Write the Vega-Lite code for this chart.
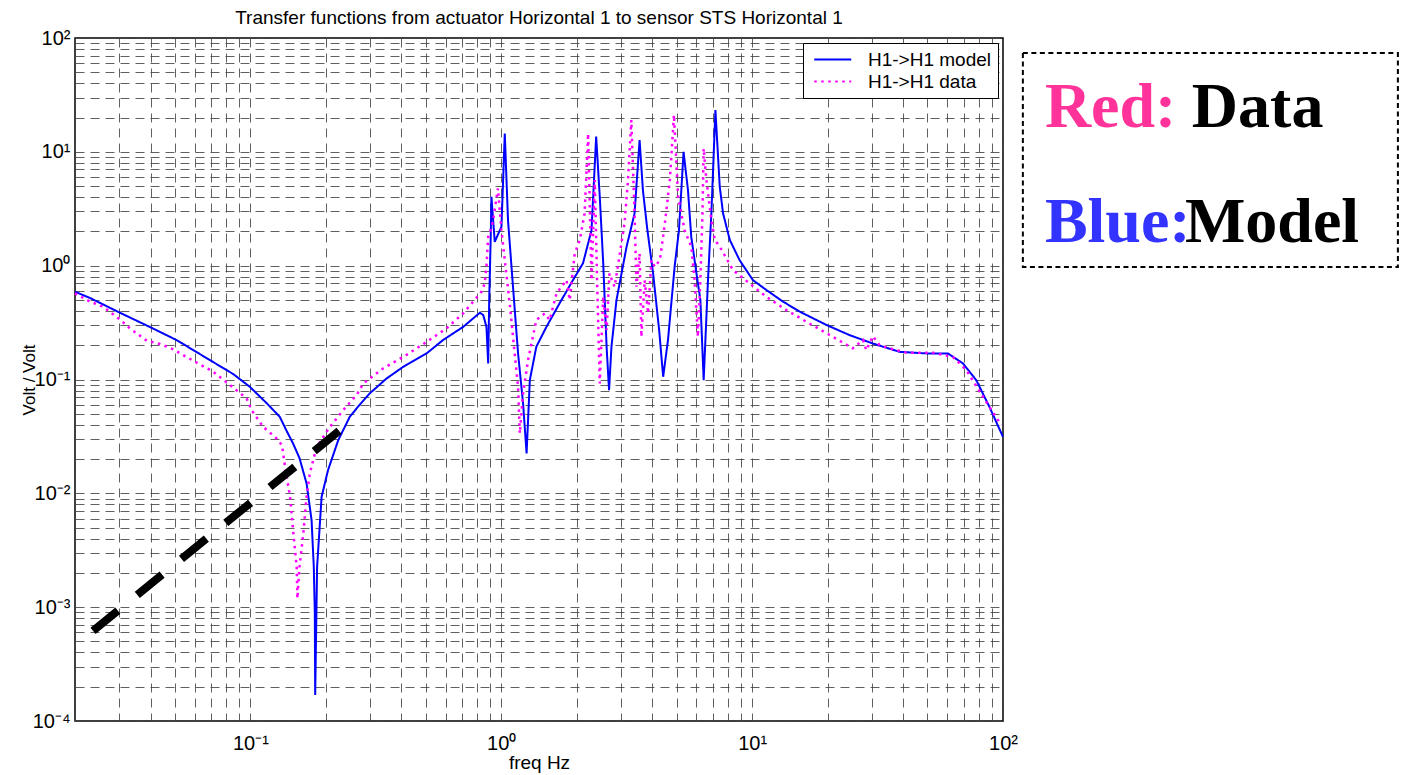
{
  "$schema": "https://vega.github.io/schema/vega-lite/v6.json",
  "width": 928,
  "height": 683,
  "autosize": {"type": "none"},
  "padding": {"left": 75, "top": 38, "right": 398, "bottom": 54},
  "background": "white",
  "title": {"text": "Transfer functions from actuator Horizontal 1 to sensor STS Horizontal 1", "font": "Liberation Sans", "fontSize": 19, "fontWeight": "normal", "color": "black", "anchor": "middle", "offset": 0},
  "datasets": {
    "model": [
      {"f": 0.02, "v": 0.59, "s": "H1->H1 model"},
      {"f": 0.023, "v": 0.519, "s": "H1->H1 model"},
      {"f": 0.0302, "v": 0.386, "s": "H1->H1 model"},
      {"f": 0.0398, "v": 0.289, "s": "H1->H1 model"},
      {"f": 0.0508, "v": 0.222, "s": "H1->H1 model"},
      {"f": 0.069, "v": 0.148, "s": "H1->H1 model"},
      {"f": 0.0855, "v": 0.1115, "s": "H1->H1 model"},
      {"f": 0.0995, "v": 0.0863, "s": "H1->H1 model"},
      {"f": 0.116, "v": 0.0621, "s": "H1->H1 model"},
      {"f": 0.131, "v": 0.047, "s": "H1->H1 model"},
      {"f": 0.139, "v": 0.0359, "s": "H1->H1 model"},
      {"f": 0.148, "v": 0.0274, "s": "H1->H1 model"},
      {"f": 0.157, "v": 0.0204, "s": "H1->H1 model"},
      {"f": 0.1675, "v": 0.01222, "s": "H1->H1 model"},
      {"f": 0.1754, "v": 0.00581, "s": "H1->H1 model"},
      {"f": 0.179, "v": 0.00226, "s": "H1->H1 model"},
      {"f": 0.1807, "v": 0.000885, "s": "H1->H1 model"},
      {"f": 0.1813, "v": 0.000169, "s": "H1->H1 model"},
      {"f": 0.1845, "v": 0.00226, "s": "H1->H1 model"},
      {"f": 0.1923, "v": 0.00931, "s": "H1->H1 model"},
      {"f": 0.204, "v": 0.016, "s": "H1->H1 model"},
      {"f": 0.224, "v": 0.0293, "s": "H1->H1 model"},
      {"f": 0.249, "v": 0.047, "s": "H1->H1 model"},
      {"f": 0.272, "v": 0.0596, "s": "H1->H1 model"},
      {"f": 0.299, "v": 0.0755, "s": "H1->H1 model"},
      {"f": 0.349, "v": 0.102, "s": "H1->H1 model"},
      {"f": 0.407, "v": 0.1294, "s": "H1->H1 model"},
      {"f": 0.504, "v": 0.1695, "s": "H1->H1 model"},
      {"f": 0.586, "v": 0.222, "s": "H1->H1 model"},
      {"f": 0.705, "v": 0.29, "s": "H1->H1 model"},
      {"f": 0.822, "v": 0.386, "s": "H1->H1 model"},
      {"f": 0.848, "v": 0.368, "s": "H1->H1 model"},
      {"f": 0.873, "v": 0.29, "s": "H1->H1 model"},
      {"f": 0.887, "v": 0.1386, "s": "H1->H1 model"},
      {"f": 0.896, "v": 0.533, "s": "H1->H1 model"},
      {"f": 0.908, "v": 1.79, "s": "H1->H1 model"},
      {"f": 0.914, "v": 4.03, "s": "H1->H1 model"},
      {"f": 0.942, "v": 1.62, "s": "H1->H1 model"},
      {"f": 1.002, "v": 2.2, "s": "H1->H1 model"},
      {"f": 1.033, "v": 14.5, "s": "H1->H1 model"},
      {"f": 1.064, "v": 2.52, "s": "H1->H1 model"},
      {"f": 1.114, "v": 0.653, "s": "H1->H1 model"},
      {"f": 1.167, "v": 0.1695, "s": "H1->H1 model"},
      {"f": 1.222, "v": 0.0617, "s": "H1->H1 model"},
      {"f": 1.262, "v": 0.0224, "s": "H1->H1 model"},
      {"f": 1.3, "v": 0.0988, "s": "H1->H1 model"},
      {"f": 1.38, "v": 0.194, "s": "H1->H1 model"},
      {"f": 1.514, "v": 0.29, "s": "H1->H1 model"},
      {"f": 1.71, "v": 0.469, "s": "H1->H1 model"},
      {"f": 1.932, "v": 0.747, "s": "H1->H1 model"},
      {"f": 2.118, "v": 1.05, "s": "H1->H1 model"},
      {"f": 2.29, "v": 2.05, "s": "H1->H1 model"},
      {"f": 2.39, "v": 13.6, "s": "H1->H1 model"},
      {"f": 2.47, "v": 4.03, "s": "H1->H1 model"},
      {"f": 2.55, "v": 1.05, "s": "H1->H1 model"},
      {"f": 2.63, "v": 0.194, "s": "H1->H1 model"},
      {"f": 2.69, "v": 0.0807, "s": "H1->H1 model"},
      {"f": 2.75, "v": 0.194, "s": "H1->H1 model"},
      {"f": 2.88, "v": 0.499, "s": "H1->H1 model"},
      {"f": 3.16, "v": 1.47, "s": "H1->H1 model"},
      {"f": 3.4, "v": 2.88, "s": "H1->H1 model"},
      {"f": 3.56, "v": 12.7, "s": "H1->H1 model"},
      {"f": 3.67, "v": 4.62, "s": "H1->H1 model"},
      {"f": 3.81, "v": 2.2, "s": "H1->H1 model"},
      {"f": 4.03, "v": 0.855, "s": "H1->H1 model"},
      {"f": 4.26, "v": 0.272, "s": "H1->H1 model"},
      {"f": 4.42, "v": 0.1057, "s": "H1->H1 model"},
      {"f": 4.62, "v": 0.222, "s": "H1->H1 model"},
      {"f": 4.91, "v": 0.978, "s": "H1->H1 model"},
      {"f": 5.11, "v": 2.05, "s": "H1->H1 model"},
      {"f": 5.33, "v": 10.0, "s": "H1->H1 model"},
      {"f": 5.55, "v": 4.62, "s": "H1->H1 model"},
      {"f": 5.72, "v": 1.79, "s": "H1->H1 model"},
      {"f": 6.0, "v": 0.855, "s": "H1->H1 model"},
      {"f": 6.22, "v": 0.499, "s": "H1->H1 model"},
      {"f": 6.41, "v": 0.0988, "s": "H1->H1 model"},
      {"f": 6.67, "v": 0.747, "s": "H1->H1 model"},
      {"f": 6.88, "v": 2.88, "s": "H1->H1 model"},
      {"f": 7.14, "v": 23.3, "s": "H1->H1 model"},
      {"f": 7.43, "v": 4.93, "s": "H1->H1 model"},
      {"f": 7.66, "v": 2.88, "s": "H1->H1 model"},
      {"f": 8.15, "v": 1.68, "s": "H1->H1 model"},
      {"f": 8.91, "v": 1.12, "s": "H1->H1 model"},
      {"f": 10.07, "v": 0.747, "s": "H1->H1 model"},
      {"f": 11.4, "v": 0.611, "s": "H1->H1 model"},
      {"f": 13.3, "v": 0.482, "s": "H1->H1 model"},
      {"f": 15.5, "v": 0.394, "s": "H1->H1 model"},
      {"f": 19.8, "v": 0.301, "s": "H1->H1 model"},
      {"f": 24.5, "v": 0.245, "s": "H1->H1 model"},
      {"f": 30.3, "v": 0.207, "s": "H1->H1 model"},
      {"f": 38.7, "v": 0.175, "s": "H1->H1 model"},
      {"f": 49.4, "v": 0.1695, "s": "H1->H1 model"},
      {"f": 60.3, "v": 0.1695, "s": "H1->H1 model"},
      {"f": 69.2, "v": 0.1386, "s": "H1->H1 model"},
      {"f": 78.2, "v": 0.0988, "s": "H1->H1 model"},
      {"f": 88.3, "v": 0.0575, "s": "H1->H1 model"},
      {"f": 100, "v": 0.0313, "s": "H1->H1 model"}
    ],
    "meas": [
      {"f": 0.02, "v": 0.571, "s": "H1->H1 data"},
      {"f": 0.023, "v": 0.482, "s": "H1->H1 data"},
      {"f": 0.0259, "v": 0.436, "s": "H1->H1 data"},
      {"f": 0.0302, "v": 0.337, "s": "H1->H1 data"},
      {"f": 0.0331, "v": 0.281, "s": "H1->H1 data"},
      {"f": 0.0387, "v": 0.219, "s": "H1->H1 data"},
      {"f": 0.0437, "v": 0.205, "s": "H1->H1 data"},
      {"f": 0.0493, "v": 0.184, "s": "H1->H1 data"},
      {"f": 0.0592, "v": 0.146, "s": "H1->H1 data"},
      {"f": 0.0711, "v": 0.117, "s": "H1->H1 data"},
      {"f": 0.083, "v": 0.0893, "s": "H1->H1 data"},
      {"f": 0.0966, "v": 0.0683, "s": "H1->H1 data"},
      {"f": 0.1012, "v": 0.0538, "s": "H1->H1 data"},
      {"f": 0.1125, "v": 0.0384, "s": "H1->H1 data"},
      {"f": 0.1274, "v": 0.0303, "s": "H1->H1 data"},
      {"f": 0.1337, "v": 0.0265, "s": "H1->H1 data"},
      {"f": 0.1375, "v": 0.0171, "s": "H1->H1 data"},
      {"f": 0.144, "v": 0.00931, "s": "H1->H1 data"},
      {"f": 0.148, "v": 0.00475, "s": "H1->H1 data"},
      {"f": 0.153, "v": 0.00226, "s": "H1->H1 data"},
      {"f": 0.154, "v": 0.00119, "s": "H1->H1 data"},
      {"f": 0.157, "v": 0.00226, "s": "H1->H1 data"},
      {"f": 0.1626, "v": 0.00444, "s": "H1->H1 data"},
      {"f": 0.1675, "v": 0.00931, "s": "H1->H1 data"},
      {"f": 0.1726, "v": 0.015, "s": "H1->H1 data"},
      {"f": 0.1837, "v": 0.0256, "s": "H1->H1 data"},
      {"f": 0.2075, "v": 0.0384, "s": "H1->H1 data"},
      {"f": 0.2344, "v": 0.0538, "s": "H1->H1 data"},
      {"f": 0.265, "v": 0.0729, "s": "H1->H1 data"},
      {"f": 0.282, "v": 0.0924, "s": "H1->H1 data"},
      {"f": 0.338, "v": 0.125, "s": "H1->H1 data"},
      {"f": 0.407, "v": 0.158, "s": "H1->H1 data"},
      {"f": 0.504, "v": 0.214, "s": "H1->H1 data"},
      {"f": 0.605, "v": 0.281, "s": "H1->H1 data"},
      {"f": 0.705, "v": 0.381, "s": "H1->H1 data"},
      {"f": 0.773, "v": 0.482, "s": "H1->H1 data"},
      {"f": 0.834, "v": 0.59, "s": "H1->H1 data"},
      {"f": 0.859, "v": 0.698, "s": "H1->H1 data"},
      {"f": 0.873, "v": 0.978, "s": "H1->H1 data"},
      {"f": 0.887, "v": 1.79, "s": "H1->H1 data"},
      {"f": 0.914, "v": 2.14, "s": "H1->H1 data"},
      {"f": 0.929, "v": 2.52, "s": "H1->H1 data"},
      {"f": 0.97, "v": 4.78, "s": "H1->H1 data"},
      {"f": 1.002, "v": 2.05, "s": "H1->H1 data"},
      {"f": 1.033, "v": 1.12, "s": "H1->H1 data"},
      {"f": 1.081, "v": 0.467, "s": "H1->H1 data"},
      {"f": 1.114, "v": 0.237, "s": "H1->H1 data"},
      {"f": 1.167, "v": 0.0863, "s": "H1->H1 data"},
      {"f": 1.186, "v": 0.0336, "s": "H1->H1 data"},
      {"f": 1.222, "v": 0.0755, "s": "H1->H1 data"},
      {"f": 1.279, "v": 0.148, "s": "H1->H1 data"},
      {"f": 1.38, "v": 0.333, "s": "H1->H1 data"},
      {"f": 1.492, "v": 0.381, "s": "H1->H1 data"},
      {"f": 1.56, "v": 0.333, "s": "H1->H1 data"},
      {"f": 1.66, "v": 0.571, "s": "H1->H1 data"},
      {"f": 1.82, "v": 0.747, "s": "H1->H1 data"},
      {"f": 1.875, "v": 0.499, "s": "H1->H1 data"},
      {"f": 1.963, "v": 1.28, "s": "H1->H1 data"},
      {"f": 2.056, "v": 1.68, "s": "H1->H1 data"},
      {"f": 2.15, "v": 2.88, "s": "H1->H1 data"},
      {"f": 2.22, "v": 14.5, "s": "H1->H1 data"},
      {"f": 2.29, "v": 0.747, "s": "H1->H1 data"},
      {"f": 2.36, "v": 5.65, "s": "H1->H1 data"},
      {"f": 2.41, "v": 0.747, "s": "H1->H1 data"},
      {"f": 2.47, "v": 0.0924, "s": "H1->H1 data"},
      {"f": 2.55, "v": 0.533, "s": "H1->H1 data"},
      {"f": 2.63, "v": 0.272, "s": "H1->H1 data"},
      {"f": 2.7, "v": 0.855, "s": "H1->H1 data"},
      {"f": 2.83, "v": 0.653, "s": "H1->H1 data"},
      {"f": 2.97, "v": 1.28, "s": "H1->H1 data"},
      {"f": 3.1, "v": 2.35, "s": "H1->H1 data"},
      {"f": 3.2, "v": 5.65, "s": "H1->H1 data"},
      {"f": 3.3, "v": 19.0, "s": "H1->H1 data"},
      {"f": 3.4, "v": 2.88, "s": "H1->H1 data"},
      {"f": 3.46, "v": 0.653, "s": "H1->H1 data"},
      {"f": 3.56, "v": 1.28, "s": "H1->H1 data"},
      {"f": 3.62, "v": 0.237, "s": "H1->H1 data"},
      {"f": 3.73, "v": 0.747, "s": "H1->H1 data"},
      {"f": 3.85, "v": 0.381, "s": "H1->H1 data"},
      {"f": 3.97, "v": 1.12, "s": "H1->H1 data"},
      {"f": 4.09, "v": 0.978, "s": "H1->H1 data"},
      {"f": 4.29, "v": 1.12, "s": "H1->H1 data"},
      {"f": 4.49, "v": 2.35, "s": "H1->H1 data"},
      {"f": 4.7, "v": 5.65, "s": "H1->H1 data"},
      {"f": 4.88, "v": 21.1, "s": "H1->H1 data"},
      {"f": 5.07, "v": 4.03, "s": "H1->H1 data"},
      {"f": 5.38, "v": 2.05, "s": "H1->H1 data"},
      {"f": 5.72, "v": 1.47, "s": "H1->H1 data"},
      {"f": 5.9, "v": 0.747, "s": "H1->H1 data"},
      {"f": 6.08, "v": 0.237, "s": "H1->H1 data"},
      {"f": 6.22, "v": 0.747, "s": "H1->H1 data"},
      {"f": 6.34, "v": 2.88, "s": "H1->H1 data"},
      {"f": 6.41, "v": 10.7, "s": "H1->H1 data"},
      {"f": 6.56, "v": 5.88, "s": "H1->H1 data"},
      {"f": 6.88, "v": 2.52, "s": "H1->H1 data"},
      {"f": 7.1, "v": 1.68, "s": "H1->H1 data"},
      {"f": 7.43, "v": 1.47, "s": "H1->H1 data"},
      {"f": 8.39, "v": 0.915, "s": "H1->H1 data"},
      {"f": 9.77, "v": 0.698, "s": "H1->H1 data"},
      {"f": 11.4, "v": 0.533, "s": "H1->H1 data"},
      {"f": 13.7, "v": 0.407, "s": "H1->H1 data"},
      {"f": 16.9, "v": 0.311, "s": "H1->H1 data"},
      {"f": 21.0, "v": 0.237, "s": "H1->H1 data"},
      {"f": 25.2, "v": 0.188, "s": "H1->H1 data"},
      {"f": 27.7, "v": 0.222, "s": "H1->H1 data"},
      {"f": 28.5, "v": 0.181, "s": "H1->H1 data"},
      {"f": 30.3, "v": 0.24, "s": "H1->H1 data"},
      {"f": 32.2, "v": 0.2, "s": "H1->H1 data"},
      {"f": 35.3, "v": 0.188, "s": "H1->H1 data"},
      {"f": 41.2, "v": 0.172, "s": "H1->H1 data"},
      {"f": 52.6, "v": 0.172, "s": "H1->H1 data"},
      {"f": 63.1, "v": 0.158, "s": "H1->H1 data"},
      {"f": 71.4, "v": 0.121, "s": "H1->H1 data"},
      {"f": 83.2, "v": 0.0705, "s": "H1->H1 data"},
      {"f": 98.4, "v": 0.0397, "s": "H1->H1 data"}
    ],
    "slope": [
      {"f": 0.0236, "v": 0.00062},
      {"f": 0.2276, "v": 0.0359}
    ]
  },
  "layer": [
    {
      "data": {"name": "model"},
      "mark": {"type": "line", "strokeWidth": 2},
      "encoding": {
        "x": {"field": "f", "type": "quantitative", "scale": {"type": "log", "domain": [0.02, 100], "nice": false}, "axis": {
          "title": "freq Hz",
          "values": [0.02,0.03,0.04,0.05,0.06,0.07,0.08,0.09,0.1,0.2,0.3,0.4,0.5,0.6,0.7,0.8,0.9,1,2,3,4,5,6,7,8,9,10,20,30,40,50,60,70,80,90,100],
          "labelExpr": "datum.value == 0.1 ? '10⁻¹' : datum.value == 1 ? '10⁰' : datum.value == 10 ? '10¹' : datum.value == 100 ? '10²' : ''",
          "labelPadding": 12,
          "titlePadding": 0
        }},
        "y": {"field": "v", "type": "quantitative", "scale": {"type": "log", "domain": [0.0001, 100], "nice": false}, "axis": {
          "title": "Volt / Volt",
          "values": [0.0001,0.0002,0.0003,0.0004,0.0005,0.0006,0.0007,0.0008,0.0009,0.001,0.002,0.003,0.004,0.005,0.006,0.007,0.008,0.009,0.01,0.02,0.03,0.04,0.05,0.06,0.07,0.08,0.09,0.1,0.2,0.3,0.4,0.5,0.6,0.7,0.8,0.9,1,2,3,4,5,6,7,8,9,10,20,30,40,50,60,70,80,90,100],
          "labelExpr": "datum.value == 0.0001 ? '10⁻⁴' : datum.value == 0.001 ? '10⁻³' : datum.value == 0.01 ? '10⁻²' : datum.value == 0.1 ? '10⁻¹' : datum.value == 1 ? '10⁰' : datum.value == 10 ? '10¹' : datum.value == 100 ? '10²' : ''",
          "labelPadding": 5,
          "titlePadding": -6,
          "titleFontSize": 17
        }},
        "color": {"field": "s", "type": "nominal", "scale": {"domain": ["H1->H1 model", "H1->H1 data"], "range": ["#0000FF", "#FF00FF"]}, "legend": {"title": null}},
        "strokeDash": {"field": "s", "type": "nominal", "scale": {"domain": ["H1->H1 model", "H1->H1 data"], "range": [[1, 0], [2.5, 4.5]]}, "legend": {"title": null}}
      }
    },
    {
      "data": {"name": "meas"},
      "mark": {"type": "line", "strokeWidth": 2.5, "strokeCap": "butt"},
      "encoding": {
        "x": {"field": "f", "type": "quantitative"},
        "y": {"field": "v", "type": "quantitative"},
        "color": {"field": "s", "type": "nominal"},
        "strokeDash": {"field": "s", "type": "nominal"}
      }
    },
    {
      "data": {"name": "slope"},
      "mark": {"type": "line", "color": "black", "strokeWidth": 8, "strokeDash": [32, 25], "strokeCap": "butt"},
      "encoding": {
        "x": {"field": "f", "type": "quantitative"},
        "y": {"field": "v", "type": "quantitative"}
      }
    },
    {
      "data": {"values": [{}]},
      "mark": {"type": "rect", "fill": "white", "fillOpacity": 0, "stroke": "black", "strokeWidth": 2, "strokeDash": [5, 3.5]},
      "encoding": {
        "x": {"datum": 120.0, "type": "quantitative"},
        "x2": {"datum": 3750},
        "y": {"datum": 73.8, "type": "quantitative"},
        "y2": {"datum": 0.973}
      }
    },
    {
      "data": {"values": [{}]},
      "mark": {"type": "text", "text": "Red:", "font": "Liberation Serif", "fontWeight": "bold", "fontSize": 64, "color": "#FF3399", "align": "left", "baseline": "alphabetic"},
      "encoding": {"x": {"datum": 146.9, "type": "quantitative"}, "y": {"datum": 16.4, "type": "quantitative"}}
    },
    {
      "data": {"values": [{}]},
      "mark": {"type": "text", "text": "Data", "font": "Liberation Serif", "fontWeight": "bold", "fontSize": 64, "color": "black", "align": "left", "baseline": "alphabetic"},
      "encoding": {"x": {"datum": 566, "type": "quantitative"}, "y": {"datum": 16.4, "type": "quantitative"}}
    },
    {
      "data": {"values": [{}]},
      "mark": {"type": "text", "text": "Blue:", "font": "Liberation Serif", "fontWeight": "bold", "fontSize": 64, "color": "#3333FF", "align": "left", "baseline": "alphabetic"},
      "encoding": {"x": {"datum": 146.9, "type": "quantitative"}, "y": {"datum": 1.62, "type": "quantitative"}}
    },
    {
      "data": {"values": [{}]},
      "mark": {"type": "text", "text": "Model", "font": "Liberation Serif", "fontWeight": "bold", "fontSize": 64, "color": "black", "align": "left", "baseline": "alphabetic"},
      "encoding": {"x": {"datum": 531, "type": "quantitative"}, "y": {"datum": 1.62, "type": "quantitative"}}
    }
  ],
  "config": {
    "view": {"stroke": "black", "strokeWidth": 1.5},
    "axis": {
      "grid": true,
      "gridColor": "#444444",
      "gridDash": [9, 6],
      "gridWidth": 1,
      "gridOpacity": 0.85,
      "ticks": false,
      "domain": false,
      "labelFont": "Liberation Sans",
      "labelFontSize": 20,
      "labelColor": "black",
      "labelFlush": false,
      "labelOverlap": false,
      "titleFont": "Liberation Sans",
      "titleFontSize": 19,
      "titleFontWeight": "normal",
      "titleColor": "black"
    },
    "legend": {
      "orient": "top-right",
      "offset": 5,
      "padding": 6,
      "strokeColor": "black",
      "fillColor": "white",
      "labelFont": "Liberation Sans",
      "labelFontSize": 19,
      "labelColor": "black",
      "labelOffset": 34,
      "symbolType": "M-1,0L3,0",
      "symbolSize": 342,
      "symbolOffset": 4,
      "symbolStrokeWidth": 2,
      "rowPadding": 1
    }
  }
}
